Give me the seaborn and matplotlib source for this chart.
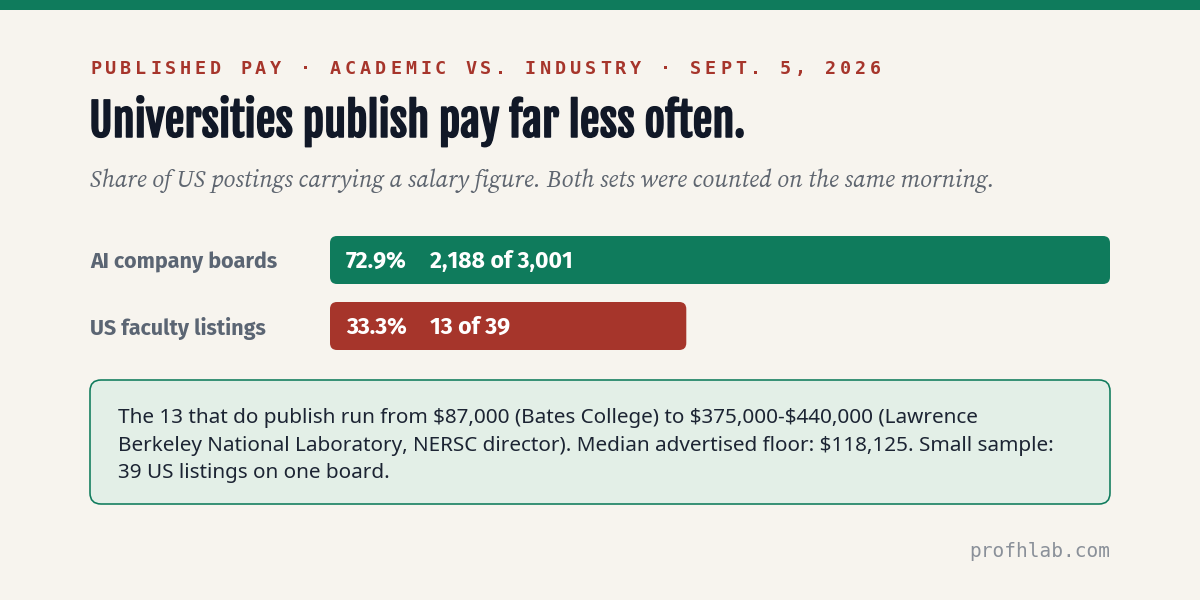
import matplotlib
matplotlib.use("Agg")
import matplotlib.pyplot as plt
import matplotlib.patheffects as pe
from matplotlib.patches import FancyBboxPatch, Rectangle
import pandas as pd
import seaborn as sns

# data
boards = ["AI company boards", "US faculty listings"]
share_pct = [72.9, 33.3]
with_salary = [2188, 13]
total_posts = [3001, 39]
bar_colors = ["#0f7b5c", "#a6352b"]

kicker = "PUBLISHED PAY · ACADEMIC VS. INDUSTRY · SEPT. 5, 2026"
title = "Universities publish pay far less often."
subtitle = "Share of US postings carrying a salary figure. Both sets were counted on the same morning."
note_lines = [
    "The 13 that do publish run from $87,000 (Bates College) to $375,000-$440,000 (Lawrence",
    "Berkeley National Laboratory, NERSC director). Median advertised floor: $118,125. Small sample:",
    "39 US listings on one board.",
]
footer = "profhlab.com"

BG = "#f7f4ee"
GREEN = "#0f7b5c"
RED = "#a6352b"
INK = "#111827"
GREY = "#5b6573"

sns.set_theme(style="white")
plt.rcParams["font.family"] = ["Noto Sans", "DejaVu Sans"]

PT = 0.72  # points per pixel at dpi 100
SANS = ["Noto Sans", "DejaVu Sans"]
BOLD = ["Fira Sans", "Open Sans", "DejaVu Sans"]

df = pd.DataFrame({"board": boards, "share": share_pct, "n": with_salary, "total": total_posts})

fig = plt.figure(figsize=(12, 6), dpi=100, facecolor=BG)

# background canvas in pixel coordinates
canvas = fig.add_axes([0, 0, 1, 1], zorder=0)
canvas.set_xlim(0, 1200)
canvas.set_ylim(600, 0)
canvas.axis("off")
canvas.add_patch(Rectangle((0, 0), 1200, 10, color=GREEN, lw=0))

# kicker with letter spacing
step = 15.0
for i, ch in enumerate(kicker):
    canvas.text(90 + i * step, 74, ch, fontsize=18.5 * PT, fontweight="bold", color=RED,
                family=["DejaVu Sans Mono"], va="baseline", ha="left")

canvas.text(89, 137, title, fontsize=44.5 * PT, color=INK,
            family=["Fjalla One", "Barlow Condensed", "DejaVu Sans"], va="baseline",
            path_effects=[pe.withStroke(linewidth=1.1, foreground=INK)])
canvas.text(90, 187, subtitle, fontsize=24 * PT, style="italic", color="#5f6670",
            family=["Source Serif 4", "Liberation Serif", "DejaVu Serif"], va="baseline")

# note box
canvas.add_patch(FancyBboxPatch((90, 380), 1020, 124, boxstyle="round,pad=0,rounding_size=11",
                                fc="#e3efe7", ec=GREEN, lw=1.6 * PT))
for k, line in enumerate(note_lines):
    canvas.text(118, 423 + k * 27.5, line, fontsize=20.7 * PT, color="#1c2433",
                family=SANS, va="baseline")

canvas.text(1110, 557, footer, fontsize=19.5 * PT, color="#8a9099",
            family=["DejaVu Sans Mono"], va="baseline", ha="right")

# bars
ax = fig.add_axes([330 / 1200, 1 - 359 / 600, 780 / 1200, 132 / 600], zorder=1)
ax.patch.set_alpha(0)
sns.barplot(data=df, x="share", y="board", hue="board", palette=bar_colors,
            orient="h", width=48 / 66, legend=False, saturation=1, ax=ax)
ax.set_xlim(0, max(share_pct))
ax.set_ylim(1.5, -0.5)
ax.set_xlabel("")
ax.set_ylabel("")
ax.set_xticks([])
sns.despine(ax=ax, left=True, bottom=True)
ax.tick_params(axis="y", length=0, pad=240 * PT)
for lab in ax.get_yticklabels():
    lab.set_ha("left")
    lab.set_family(BOLD)
    lab.set_fontsize(21.5 * PT)
    lab.set_fontweight("bold")
    lab.set_color(GREY)

# rounded bar ends, built from the bars seaborn drew
px_x = 780 / max(share_pct)
px_y = 132 / 2
for bar in list(ax.patches):
    x0, y0 = bar.get_x(), bar.get_y()
    w, h = bar.get_width(), bar.get_height()
    fc = bar.get_facecolor()
    bar.remove()
    ax.add_patch(FancyBboxPatch((x0, y0), w, h,
                                boxstyle="round,pad=0,rounding_size=%f" % (7 / px_x),
                                mutation_aspect=px_x / px_y, fc=fc, ec="none"))

for i, row in df.iterrows():
    ax.annotate("%.1f%%" % row["share"], (0, i), xytext=(16 * PT, -1.5 * PT), textcoords="offset points",
                va="center", ha="left", color="white", fontweight="bold", fontsize=23 * PT, family=BOLD)
    ax.annotate("{:,} of {:,}".format(row["n"], row["total"]), (0, i), xytext=(100 * PT, -1.5 * PT),
                textcoords="offset points", va="center", ha="left", color="white",
                fontweight="bold", fontsize=23 * PT, family=BOLD)

fig.savefig("out.png", dpi=100, facecolor=BG)
